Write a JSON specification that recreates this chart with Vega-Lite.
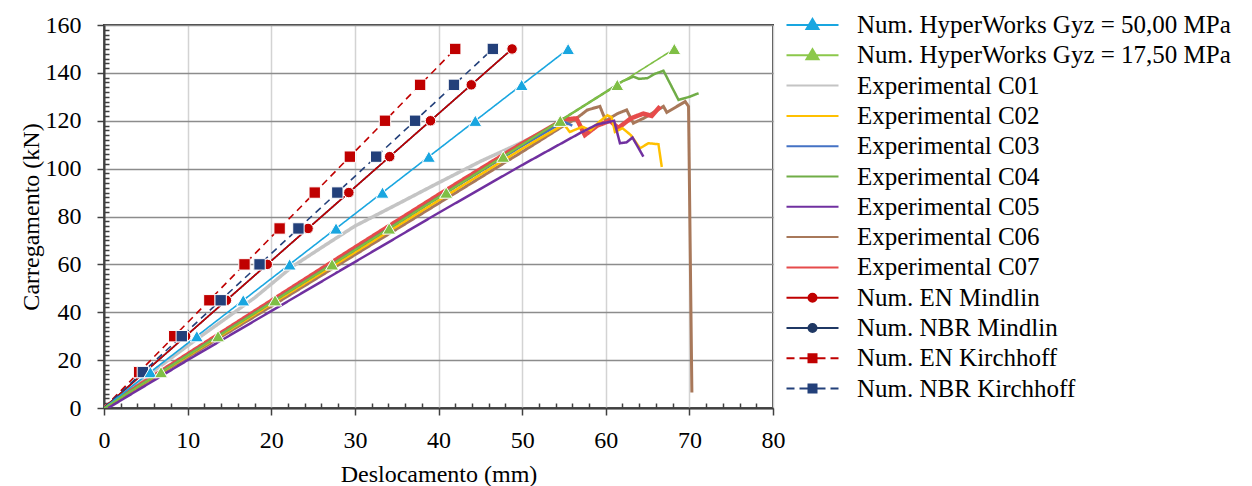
{
  "$schema": "https://vega.github.io/schema/vega-lite/v6.json",
  "autosize": "none",
  "width": 669,
  "height": 383,
  "padding": {"left": 104, "top": 25, "right": 479, "bottom": 78},
  "background": "white",
  "data": {"values": [
    {"serie": "Experimental C01", "deslocamento": 0, "carregamento": 0},
    {"serie": "Experimental C01", "deslocamento": 5, "carregamento": 13},
    {"serie": "Experimental C01", "deslocamento": 10, "carregamento": 26},
    {"serie": "Experimental C01", "deslocamento": 15, "carregamento": 38.5},
    {"serie": "Experimental C01", "deslocamento": 18, "carregamento": 46},
    {"serie": "Experimental C01", "deslocamento": 22.5, "carregamento": 59},
    {"serie": "Experimental C01", "deslocamento": 26, "carregamento": 67},
    {"serie": "Experimental C01", "deslocamento": 30, "carregamento": 76},
    {"serie": "Experimental C01", "deslocamento": 35, "carregamento": 85},
    {"serie": "Experimental C01", "deslocamento": 39.4, "carregamento": 93},
    {"serie": "Experimental C01", "deslocamento": 45, "carregamento": 103},
    {"serie": "Experimental C01", "deslocamento": 50, "carregamento": 111},
    {"serie": "Experimental C01", "deslocamento": 54, "carregamento": 118},
    {"serie": "Experimental C06", "deslocamento": 0, "carregamento": 0},
    {"serie": "Experimental C06", "deslocamento": 10, "carregamento": 21.2},
    {"serie": "Experimental C06", "deslocamento": 20, "carregamento": 42.5},
    {"serie": "Experimental C06", "deslocamento": 30, "carregamento": 64},
    {"serie": "Experimental C06", "deslocamento": 40, "carregamento": 85.5},
    {"serie": "Experimental C06", "deslocamento": 50, "carregamento": 107},
    {"serie": "Experimental C06", "deslocamento": 55, "carregamento": 118},
    {"serie": "Experimental C06", "deslocamento": 56.5, "carregamento": 121},
    {"serie": "Experimental C06", "deslocamento": 57.8, "carregamento": 124.5},
    {"serie": "Experimental C06", "deslocamento": 59.3, "carregamento": 126},
    {"serie": "Experimental C06", "deslocamento": 60, "carregamento": 120},
    {"serie": "Experimental C06", "deslocamento": 61.4, "carregamento": 123},
    {"serie": "Experimental C06", "deslocamento": 62.5, "carregamento": 124.5},
    {"serie": "Experimental C06", "deslocamento": 63.3, "carregamento": 119},
    {"serie": "Experimental C06", "deslocamento": 64.5, "carregamento": 121},
    {"serie": "Experimental C06", "deslocamento": 66, "carregamento": 124},
    {"serie": "Experimental C06", "deslocamento": 66.9, "carregamento": 126},
    {"serie": "Experimental C06", "deslocamento": 67.3, "carregamento": 123.5},
    {"serie": "Experimental C06", "deslocamento": 69.5, "carregamento": 128},
    {"serie": "Experimental C06", "deslocamento": 69.9, "carregamento": 126},
    {"serie": "Experimental C06", "deslocamento": 70.3, "carregamento": 6.5},
    {"serie": "Experimental C07", "deslocamento": 0, "carregamento": 0},
    {"serie": "Experimental C07", "deslocamento": 10, "carregamento": 22.4},
    {"serie": "Experimental C07", "deslocamento": 20, "carregamento": 44.7},
    {"serie": "Experimental C07", "deslocamento": 30, "carregamento": 67},
    {"serie": "Experimental C07", "deslocamento": 40, "carregamento": 89},
    {"serie": "Experimental C07", "deslocamento": 50, "carregamento": 110.5},
    {"serie": "Experimental C07", "deslocamento": 55, "carregamento": 120.5},
    {"serie": "Experimental C07", "deslocamento": 56.5, "carregamento": 121},
    {"serie": "Experimental C07", "deslocamento": 57.5, "carregamento": 114},
    {"serie": "Experimental C07", "deslocamento": 59, "carregamento": 118},
    {"serie": "Experimental C07", "deslocamento": 60.5, "carregamento": 120},
    {"serie": "Experimental C07", "deslocamento": 61.5, "carregamento": 117},
    {"serie": "Experimental C07", "deslocamento": 63, "carregamento": 121},
    {"serie": "Experimental C07", "deslocamento": 64.5, "carregamento": 123},
    {"serie": "Experimental C07", "deslocamento": 65.5, "carregamento": 122},
    {"serie": "Experimental C07", "deslocamento": 66.5, "carregamento": 126},
    {"serie": "Experimental C03", "deslocamento": 0, "carregamento": 0},
    {"serie": "Experimental C03", "deslocamento": 10, "carregamento": 22},
    {"serie": "Experimental C03", "deslocamento": 20, "carregamento": 44},
    {"serie": "Experimental C03", "deslocamento": 30, "carregamento": 66},
    {"serie": "Experimental C03", "deslocamento": 40, "carregamento": 88},
    {"serie": "Experimental C03", "deslocamento": 50, "carregamento": 109.5},
    {"serie": "Experimental C03", "deslocamento": 55, "carregamento": 119.5},
    {"serie": "Experimental C03", "deslocamento": 56, "carregamento": 118},
    {"serie": "Experimental C02", "deslocamento": 0, "carregamento": 0},
    {"serie": "Experimental C02", "deslocamento": 10, "carregamento": 21.7},
    {"serie": "Experimental C02", "deslocamento": 20, "carregamento": 43.4},
    {"serie": "Experimental C02", "deslocamento": 30, "carregamento": 65},
    {"serie": "Experimental C02", "deslocamento": 40, "carregamento": 86.7},
    {"serie": "Experimental C02", "deslocamento": 50, "carregamento": 108.3},
    {"serie": "Experimental C02", "deslocamento": 55, "carregamento": 118.5},
    {"serie": "Experimental C02", "deslocamento": 55.7, "carregamento": 115.3},
    {"serie": "Experimental C02", "deslocamento": 57.2, "carregamento": 117.5},
    {"serie": "Experimental C02", "deslocamento": 58.2, "carregamento": 116},
    {"serie": "Experimental C02", "deslocamento": 59.2, "carregamento": 119.5},
    {"serie": "Experimental C02", "deslocamento": 60.2, "carregamento": 122.3},
    {"serie": "Experimental C02", "deslocamento": 60.7, "carregamento": 121.5},
    {"serie": "Experimental C02", "deslocamento": 61.1, "carregamento": 115.3},
    {"serie": "Experimental C02", "deslocamento": 62, "carregamento": 116.9},
    {"serie": "Experimental C02", "deslocamento": 63, "carregamento": 114},
    {"serie": "Experimental C02", "deslocamento": 64.1, "carregamento": 108.5},
    {"serie": "Experimental C02", "deslocamento": 65.1, "carregamento": 110.6},
    {"serie": "Experimental C02", "deslocamento": 66.3, "carregamento": 110.2},
    {"serie": "Experimental C02", "deslocamento": 66.7, "carregamento": 100.7},
    {"serie": "Experimental C04", "deslocamento": 0, "carregamento": 0},
    {"serie": "Experimental C04", "deslocamento": 10, "carregamento": 22},
    {"serie": "Experimental C04", "deslocamento": 20, "carregamento": 44},
    {"serie": "Experimental C04", "deslocamento": 30, "carregamento": 66},
    {"serie": "Experimental C04", "deslocamento": 40, "carregamento": 88},
    {"serie": "Experimental C04", "deslocamento": 50, "carregamento": 110},
    {"serie": "Experimental C04", "deslocamento": 55, "carregamento": 121},
    {"serie": "Experimental C04", "deslocamento": 60, "carregamento": 132},
    {"serie": "Experimental C04", "deslocamento": 62, "carregamento": 136.5},
    {"serie": "Experimental C04", "deslocamento": 63.3, "carregamento": 138.4},
    {"serie": "Experimental C04", "deslocamento": 64, "carregamento": 137.5},
    {"serie": "Experimental C04", "deslocamento": 65, "carregamento": 137.8},
    {"serie": "Experimental C04", "deslocamento": 65.8, "carregamento": 139.5},
    {"serie": "Experimental C04", "deslocamento": 66.9, "carregamento": 140.9},
    {"serie": "Experimental C04", "deslocamento": 68.7, "carregamento": 128.7},
    {"serie": "Experimental C04", "deslocamento": 70, "carregamento": 130},
    {"serie": "Experimental C04", "deslocamento": 71.1, "carregamento": 131.5},
    {"serie": "Experimental C05", "deslocamento": 0.5, "carregamento": 0},
    {"serie": "Experimental C05", "deslocamento": 10, "carregamento": 20},
    {"serie": "Experimental C05", "deslocamento": 20, "carregamento": 40.5},
    {"serie": "Experimental C05", "deslocamento": 30, "carregamento": 61},
    {"serie": "Experimental C05", "deslocamento": 40, "carregamento": 81.5},
    {"serie": "Experimental C05", "deslocamento": 50, "carregamento": 101.5},
    {"serie": "Experimental C05", "deslocamento": 57, "carregamento": 115},
    {"serie": "Experimental C05", "deslocamento": 59, "carregamento": 118.5},
    {"serie": "Experimental C05", "deslocamento": 60.5, "carregamento": 119.6},
    {"serie": "Experimental C05", "deslocamento": 61, "carregamento": 120},
    {"serie": "Experimental C05", "deslocamento": 61.7, "carregamento": 110.6},
    {"serie": "Experimental C05", "deslocamento": 62.5, "carregamento": 111},
    {"serie": "Experimental C05", "deslocamento": 63.2, "carregamento": 113},
    {"serie": "Experimental C05", "deslocamento": 64.5, "carregamento": 105},
    {"serie": "Num. NBR Mindlin", "deslocamento": 0, "carregamento": 0},
    {"serie": "Num. NBR Mindlin", "deslocamento": 4.88, "carregamento": 15},
    {"serie": "Num. NBR Mindlin", "deslocamento": 9.76, "carregamento": 30},
    {"serie": "Num. NBR Mindlin", "deslocamento": 14.64, "carregamento": 45},
    {"serie": "Num. NBR Mindlin", "deslocamento": 19.52, "carregamento": 60},
    {"serie": "Num. NBR Mindlin", "deslocamento": 24.4, "carregamento": 75},
    {"serie": "Num. NBR Mindlin", "deslocamento": 29.28, "carregamento": 90},
    {"serie": "Num. NBR Mindlin", "deslocamento": 34.16, "carregamento": 105},
    {"serie": "Num. NBR Mindlin", "deslocamento": 39.04, "carregamento": 120},
    {"serie": "Num. NBR Mindlin", "deslocamento": 43.92, "carregamento": 135},
    {"serie": "Num. NBR Mindlin", "deslocamento": 48.8, "carregamento": 150},
    {"serie": "Num. EN Mindlin", "deslocamento": 0, "carregamento": 0},
    {"serie": "Num. EN Mindlin", "deslocamento": 4.88, "carregamento": 15},
    {"serie": "Num. EN Mindlin", "deslocamento": 9.76, "carregamento": 30},
    {"serie": "Num. EN Mindlin", "deslocamento": 14.64, "carregamento": 45},
    {"serie": "Num. EN Mindlin", "deslocamento": 19.52, "carregamento": 60},
    {"serie": "Num. EN Mindlin", "deslocamento": 24.4, "carregamento": 75},
    {"serie": "Num. EN Mindlin", "deslocamento": 29.28, "carregamento": 90},
    {"serie": "Num. EN Mindlin", "deslocamento": 34.16, "carregamento": 105},
    {"serie": "Num. EN Mindlin", "deslocamento": 39.04, "carregamento": 120},
    {"serie": "Num. EN Mindlin", "deslocamento": 43.92, "carregamento": 135},
    {"serie": "Num. EN Mindlin", "deslocamento": 48.8, "carregamento": 150},
    {"serie": "Num. EN Kirchhoff", "deslocamento": 0, "carregamento": 0},
    {"serie": "Num. EN Kirchhoff", "deslocamento": 4.2, "carregamento": 15},
    {"serie": "Num. EN Kirchhoff", "deslocamento": 8.4, "carregamento": 30},
    {"serie": "Num. EN Kirchhoff", "deslocamento": 12.6, "carregamento": 45},
    {"serie": "Num. EN Kirchhoff", "deslocamento": 16.8, "carregamento": 60},
    {"serie": "Num. EN Kirchhoff", "deslocamento": 21, "carregamento": 75},
    {"serie": "Num. EN Kirchhoff", "deslocamento": 25.2, "carregamento": 90},
    {"serie": "Num. EN Kirchhoff", "deslocamento": 29.4, "carregamento": 105},
    {"serie": "Num. EN Kirchhoff", "deslocamento": 33.6, "carregamento": 120},
    {"serie": "Num. EN Kirchhoff", "deslocamento": 37.8, "carregamento": 135},
    {"serie": "Num. EN Kirchhoff", "deslocamento": 42, "carregamento": 150},
    {"serie": "Num. NBR Kirchhoff", "deslocamento": 0, "carregamento": 0},
    {"serie": "Num. NBR Kirchhoff", "deslocamento": 4.65, "carregamento": 15},
    {"serie": "Num. NBR Kirchhoff", "deslocamento": 9.3, "carregamento": 30},
    {"serie": "Num. NBR Kirchhoff", "deslocamento": 13.95, "carregamento": 45},
    {"serie": "Num. NBR Kirchhoff", "deslocamento": 18.6, "carregamento": 60},
    {"serie": "Num. NBR Kirchhoff", "deslocamento": 23.25, "carregamento": 75},
    {"serie": "Num. NBR Kirchhoff", "deslocamento": 27.9, "carregamento": 90},
    {"serie": "Num. NBR Kirchhoff", "deslocamento": 32.55, "carregamento": 105},
    {"serie": "Num. NBR Kirchhoff", "deslocamento": 37.2, "carregamento": 120},
    {"serie": "Num. NBR Kirchhoff", "deslocamento": 41.85, "carregamento": 135},
    {"serie": "Num. NBR Kirchhoff", "deslocamento": 46.5, "carregamento": 150},
    {"serie": "Num. HyperWorks Gyz = 50,00 MPa", "deslocamento": 0, "carregamento": 0},
    {"serie": "Num. HyperWorks Gyz = 50,00 MPa", "deslocamento": 5.55, "carregamento": 15},
    {"serie": "Num. HyperWorks Gyz = 50,00 MPa", "deslocamento": 11.1, "carregamento": 30},
    {"serie": "Num. HyperWorks Gyz = 50,00 MPa", "deslocamento": 16.65, "carregamento": 45},
    {"serie": "Num. HyperWorks Gyz = 50,00 MPa", "deslocamento": 22.2, "carregamento": 60},
    {"serie": "Num. HyperWorks Gyz = 50,00 MPa", "deslocamento": 27.75, "carregamento": 75},
    {"serie": "Num. HyperWorks Gyz = 50,00 MPa", "deslocamento": 33.3, "carregamento": 90},
    {"serie": "Num. HyperWorks Gyz = 50,00 MPa", "deslocamento": 38.85, "carregamento": 105},
    {"serie": "Num. HyperWorks Gyz = 50,00 MPa", "deslocamento": 44.4, "carregamento": 120},
    {"serie": "Num. HyperWorks Gyz = 50,00 MPa", "deslocamento": 49.95, "carregamento": 135},
    {"serie": "Num. HyperWorks Gyz = 50,00 MPa", "deslocamento": 55.5, "carregamento": 150},
    {"serie": "Num. HyperWorks Gyz = 17,50 MPa", "deslocamento": 0, "carregamento": 0},
    {"serie": "Num. HyperWorks Gyz = 17,50 MPa", "deslocamento": 6.82, "carregamento": 15},
    {"serie": "Num. HyperWorks Gyz = 17,50 MPa", "deslocamento": 13.64, "carregamento": 30},
    {"serie": "Num. HyperWorks Gyz = 17,50 MPa", "deslocamento": 20.46, "carregamento": 45},
    {"serie": "Num. HyperWorks Gyz = 17,50 MPa", "deslocamento": 27.28, "carregamento": 60},
    {"serie": "Num. HyperWorks Gyz = 17,50 MPa", "deslocamento": 34.1, "carregamento": 75},
    {"serie": "Num. HyperWorks Gyz = 17,50 MPa", "deslocamento": 40.92, "carregamento": 90},
    {"serie": "Num. HyperWorks Gyz = 17,50 MPa", "deslocamento": 47.74, "carregamento": 105},
    {"serie": "Num. HyperWorks Gyz = 17,50 MPa", "deslocamento": 54.56, "carregamento": 120},
    {"serie": "Num. HyperWorks Gyz = 17,50 MPa", "deslocamento": 61.38, "carregamento": 135},
    {"serie": "Num. HyperWorks Gyz = 17,50 MPa", "deslocamento": 68.2, "carregamento": 150}
  ]},
  "encoding": {
    "x": {
      "field": "deslocamento", "type": "quantitative",
      "scale": {"domain": [0, 80], "nice": false, "zero": false},
      "axis": {
        "title": "Deslocamento (mm)",
        "values": [0,2,4,6,8,10,12,14,16,18,20,22,24,26,28,30,32,34,36,38,40,42,44,46,48,50,52,54,56,58,60,62,64,66,68,70,72,74,76,78,80],
        "labelExpr": "datum.value % 10 === 0 ? datum.label : ''",
        "labelFlush": false,
        "labelOverlap": false,
        "labelPadding": 13,
        "titlePadding": 10,
        "gridColor": "#D3D3D3",
        "gridWidth": 1.5,
        "gridOpacity": {"condition": {"test": "datum.value % 10 === 0", "value": 1}, "value": 0},
        "tickSize": {"condition": {"test": "datum.value % 10 === 0", "value": 7}, "value": -5}
      }
    },
    "y": {
      "field": "carregamento", "type": "quantitative",
      "scale": {"domain": [0, 160], "nice": false, "zero": false},
      "axis": {
        "title": "Carregamento (kN)",
        "values": [0,2,4,6,8,10,12,14,16,18,20,22,24,26,28,30,32,34,36,38,40,42,44,46,48,50,52,54,56,58,60,62,64,66,68,70,72,74,76,78,80,82,84,86,88,90,92,94,96,98,100,102,104,106,108,110,112,114,116,118,120,122,124,126,128,130,132,134,136,138,140,142,144,146,148,150,152,154,156,158,160],
        "labelExpr": "datum.value % 20 === 0 ? datum.label : ''",
        "labelFlush": false,
        "labelOverlap": false,
        "labelPadding": 16,
        "titlePadding": 2,
        "gridColor": "#8C8C8C",
        "gridWidth": 1.5,
        "gridOpacity": {"condition": {"test": "datum.value % 20 === 0", "value": 1}, "value": 0},
        "tickSize": {"condition": {"test": "datum.value % 20 === 0", "value": 7}, "value": -5}
      }
    }
  },
  "layer": [
    {
      "mark": {"type": "line", "clip": true},
      "encoding": {
        "color": {
          "field": "serie", "type": "nominal", "legend": null,
          "scale": {
            "domain": ["Experimental C01", "Experimental C02", "Experimental C03", "Experimental C04", "Experimental C05", "Experimental C06", "Experimental C07", "Num. EN Kirchhoff", "Num. EN Mindlin", "Num. HyperWorks Gyz = 17,50 MPa", "Num. HyperWorks Gyz = 50,00 MPa", "Num. NBR Kirchhoff", "Num. NBR Mindlin"],
            "range": ["#C4C4C4", "#FFC000", "#4472C4", "#70AD47", "#7030A0", "#A8785A", "#E64B4B", "#C00000", "#C00000", "#7FBF45", "#19A6E0", "#23407A", "#1F3864"]
          }
        },
        "size": {
          "field": "serie", "type": "nominal", "legend": null,
          "scale": {
            "type": "ordinal",
            "domain": ["Experimental C01", "Experimental C02", "Experimental C03", "Experimental C04", "Experimental C05", "Experimental C06", "Experimental C07", "Num. EN Kirchhoff", "Num. EN Mindlin", "Num. HyperWorks Gyz = 17,50 MPa", "Num. HyperWorks Gyz = 50,00 MPa", "Num. NBR Kirchhoff", "Num. NBR Mindlin"],
            "range": [3.5, 2.5, 2.5, 2.5, 2.5, 3, 4.5, 1.6, 1.6, 1.6, 1.6, 1.6, 1.6]
          }
        },
        "strokeDash": {
          "field": "serie", "type": "nominal", "legend": null,
          "scale": {
            "type": "ordinal",
            "domain": ["Experimental C01", "Experimental C02", "Experimental C03", "Experimental C04", "Experimental C05", "Experimental C06", "Experimental C07", "Num. EN Kirchhoff", "Num. EN Mindlin", "Num. HyperWorks Gyz = 17,50 MPa", "Num. HyperWorks Gyz = 50,00 MPa", "Num. NBR Kirchhoff", "Num. NBR Mindlin"],
            "range": [[1,0],[1,0],[1,0],[1,0],[1,0],[1,0],[1,0],[7,5],[1,0],[1,0],[1,0],[7,5],[1,0]]
          }
        }
      }
    },
    {
      "transform": [{"filter": "datum.carregamento > 0 && indexof(datum.serie, 'Mindlin') >= 0"}],
      "mark": {"type": "point", "shape": "circle", "size": 110, "filled": true, "opacity": 1, "stroke": "white", "strokeWidth": 1},
      "encoding": {"color": {"field": "serie", "type": "nominal", "legend": null}}
    },
    {
      "transform": [{"filter": "datum.carregamento > 0 && indexof(datum.serie, 'Kirchhoff') >= 0"}],
      "mark": {"type": "point", "shape": "square", "size": 130, "filled": true, "opacity": 1, "stroke": "white", "strokeWidth": 1},
      "encoding": {"color": {"field": "serie", "type": "nominal", "legend": null}}
    },
    {
      "transform": [{"filter": "datum.carregamento > 0 && indexof(datum.serie, 'HyperWorks') >= 0"}],
      "mark": {"type": "point", "shape": "triangle-up", "size": 170, "filled": true, "opacity": 1, "stroke": "white", "strokeWidth": 1},
      "encoding": {"color": {"field": "serie", "type": "nominal", "legend": null}}
    },
    {
      "mark": {"type": "point", "filled": true, "opacity": 0},
      "encoding": {
        "fill": {
          "field": "serie", "type": "nominal",
          "scale": {
            "domain": ["Num. HyperWorks Gyz = 50,00 MPa", "Num. HyperWorks Gyz = 17,50 MPa", "Experimental C01", "Experimental C02", "Experimental C03", "Experimental C04", "Experimental C05", "Experimental C06", "Experimental C07", "Num. EN Mindlin", "Num. NBR Mindlin", "Num. EN Kirchhoff", "Num. NBR Kirchhoff"],
            "range": ["#19A6E0", "#8CC84B", "#C4C4C4", "#FFC000", "#4472C4", "#70AD47", "#7030A0", "#A8785A", "#E64B4B", "#C00000", "#1F3864", "#C00000", "#23407A"]
          },
          "legend": {"title": null, "orient": "none", "legendX": 676, "legendY": -12.5, "symbolOpacity": 1}
        },
        "stroke": {
          "field": "serie", "type": "nominal",
          "scale": {
            "domain": ["Num. HyperWorks Gyz = 50,00 MPa", "Num. HyperWorks Gyz = 17,50 MPa", "Experimental C01", "Experimental C02", "Experimental C03", "Experimental C04", "Experimental C05", "Experimental C06", "Experimental C07", "Num. EN Mindlin", "Num. NBR Mindlin", "Num. EN Kirchhoff", "Num. NBR Kirchhoff"],
            "range": ["#19A6E0", "#8CC84B", "#C4C4C4", "#FFC000", "#4472C4", "#70AD47", "#7030A0", "#A8785A", "#E64B4B", "#C00000", "#1F3864", "#C00000", "#23407A"]
          },
          "legend": {"title": null, "orient": "none", "legendX": 676, "legendY": -12.5, "symbolOpacity": 1}
        },
        "shape": {
          "field": "serie", "type": "nominal",
          "scale": {
            "domain": ["Num. HyperWorks Gyz = 50,00 MPa", "Num. HyperWorks Gyz = 17,50 MPa", "Experimental C01", "Experimental C02", "Experimental C03", "Experimental C04", "Experimental C05", "Experimental C06", "Experimental C07", "Num. EN Mindlin", "Num. NBR Mindlin", "Num. EN Kirchhoff", "Num. NBR Kirchhoff"],
            "range": [
              "M-1.2,0H9.2M4,-1.2L5.2,0.8L2.8,0.8Z",
              "M-1.2,0H9.2M4,-1.2L5.2,0.8L2.8,0.8Z",
              "M-1.2,0H9.2",
              "M-1.2,0H9.2",
              "M-1.2,0H9.2",
              "M-1.2,0H9.2",
              "M-1.2,0H9.2",
              "M-1.2,0H9.2",
              "M-1.2,0H9.2",
              "M-1.2,0H9.2M4.8,0A0.8,0.8,0,1,1,3.2,0A0.8,0.8,0,1,1,4.8,0Z",
              "M-1.2,0H9.2M4.8,0A0.8,0.8,0,1,1,3.2,0A0.8,0.8,0,1,1,4.8,0Z",
              "M-1.2,0H0.4M1.4,0H3M5,0H6.6M7.6,0H9.2M3.2,-0.8H4.8V0.8H3.2Z",
              "M-1.2,0H0.4M1.4,0H3M5,0H6.6M7.6,0H9.2M3.2,-0.8H4.8V0.8H3.2Z"
            ]
          },
          "legend": {"title": null, "orient": "none", "legendX": 676, "legendY": -12.5, "symbolOpacity": 1}
        }
      }
    }
  ],
  "config": {
    "font": "Liberation Serif, Times New Roman, serif",
    "view": {"stroke": "#404040", "strokeWidth": 2},
    "axis": {
      "labelFont": "Liberation Serif, Times New Roman, serif", "labelFontSize": 24, "labelColor": "#000000",
      "titleFont": "Liberation Serif, Times New Roman, serif", "titleFontSize": 24, "titleFontWeight": "normal", "titleColor": "#000000",
      "domainColor": "#404040", "domainWidth": 2, "tickColor": "#404040", "tickWidth": 1.5
    },
    "legend": {
      "labelFont": "Liberation Serif, Times New Roman, serif", "labelFontSize": 25, "labelColor": "#000000", "labelLimit": 0,
      "symbolSize": 100, "symbolStrokeWidth": 2, "symbolOpacity": 1, "rowPadding": 4.3, "labelOffset": 52, "padding": 0,
      "symbolLimit": 0
    }
  }
}
